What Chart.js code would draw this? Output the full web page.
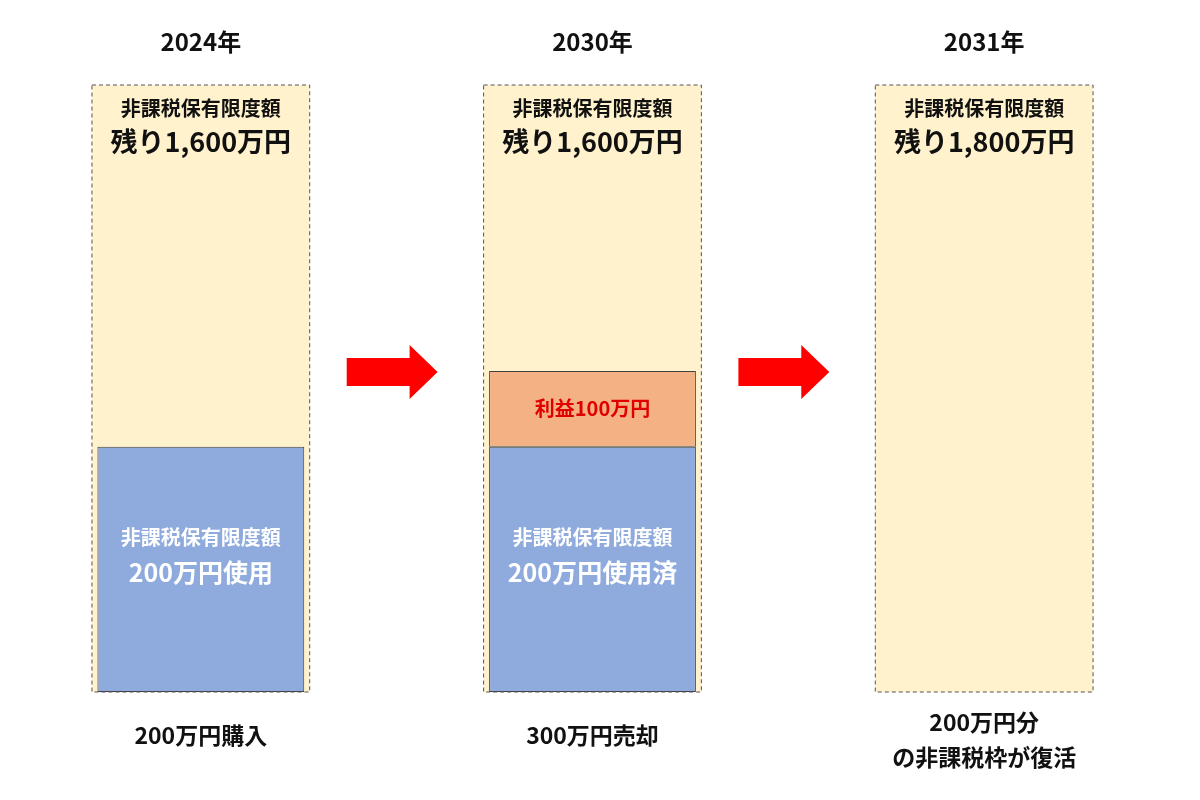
<!DOCTYPE html>
<html><head><meta charset="utf-8">
<script src="https://cdn.jsdelivr.net/npm/chart.js@4"></script>
<style>body{margin:0;background:#fff}#w{width:1200px;height:800px}</style>
</head><body><div id="w"><canvas id="c"></canvas></div>
<script>
const years=['2024年','2030年','2031年'];
const frameVals=[100,100,100];
const usedVals=[40.4,40.4,0];
const profitVals=[0,12.5,0];
const topLine1=['非課税保有限度額','非課税保有限度額','非課税保有限度額'];
const topLine2=['残り1,600万円','残り1,600万円','残り1,800万円'];
const usedLabels=[['非課税保有限度額','200万円使用'],['非課税保有限度額','200万円使用済'],[]];
const profitLabels=['','利益100万円',''];
const bottomLabels=[['200万円購入'],['300万円売却'],['200万円分','の非課税枠が復活']];
const F='"Noto Sans CJK JP","Noto Sans",sans-serif';
const deco={id:'deco',
 beforeDatasetsDraw(ch){},
 afterDatasetsDraw(ch){
  const c=ch.ctx,m0=ch.getDatasetMeta(0),m1=ch.getDatasetMeta(1),m2=ch.getDatasetMeta(2);
  c.save();c.textAlign='center';c.textBaseline='middle';
  m0.data.forEach((b,i)=>{
   const w=b.width,x=b.x-w/2;
   c.setLineDash([4,3]);c.strokeStyle='#555';c.lineWidth=1;
   c.strokeRect(x,b.y,w,b.base-b.y);c.setLineDash([]);
   c.fillStyle='#111';
   c.font='bold 20px '+F;c.fillText(topLine1[i],b.x,b.y+23);
   c.font='bold 27px '+F;c.fillText(topLine2[i],b.x,b.y+57);
   c.font='bold 24px '+F;c.fillText(years[i],b.x,42);
   const bl=bottomLabels[i];
   c.font='bold 23px '+F;
   if(bl.length===1)c.fillText(bl[0],b.x,735);
   else{c.fillText(bl[0],b.x,722);c.fillText(bl[1],b.x,757);}
   const u=m1.data[i];
   if(usedLabels[i].length){c.fillStyle='#fff';
    c.font='bold 20px '+F;c.fillText(usedLabels[i][0],u.x,537);
    c.font='bold 25px '+F;c.fillText(usedLabels[i][1],u.x,572);}
   const p=m2.data[i];
   if(profitLabels[i]){c.fillStyle='#e00000';c.font='bold 20px '+F;c.fillText(profitLabels[i],p.x,(p.y+p.base)/2);}
  });
  // arrows
  for(let i=0;i<2;i++){
   const a=m0.data[i],b=m0.data[i+1];
   const x1=a.x+a.width/2+37,x2=b.x-b.width/2-46,y=372;
   c.fillStyle='#ff0000';c.beginPath();
   c.moveTo(x1,y-14);c.lineTo(x2-28,y-14);c.lineTo(x2-28,y-27);c.lineTo(x2,y);
   c.lineTo(x2-28,y+27);c.lineTo(x2-28,y+14);c.lineTo(x1,y+14);c.closePath();c.fill();
  }
  c.restore();
 }};
new Chart(document.getElementById('c'),{type:'bar',
 data:{labels:years,datasets:[
  {data:frameVals,backgroundColor:'#fff2cc',stack:'f',grouped:false,order:3,barPercentage:0.556,categoryPercentage:1},
  {data:usedVals,backgroundColor:'#8faadc',borderColor:'#404040',borderWidth:1,borderSkipped:false,stack:'s',grouped:false,order:1,barPercentage:0.528,categoryPercentage:1},
  {data:profitVals,backgroundColor:'#f4b183',borderColor:'#404040',borderWidth:1,borderSkipped:false,stack:'s',grouped:false,order:1,barPercentage:0.528,categoryPercentage:1}
 ]},
 options:{responsive:true,maintainAspectRatio:false,animation:false,
  layout:{padding:{left:5,right:20,top:85,bottom:108}},
  plugins:{legend:{display:false},tooltip:{enabled:false}},
  scales:{x:{display:false,stacked:true},y:{display:false,stacked:true,min:0,max:100}}},
 plugins:[deco]});
</script></body></html>
